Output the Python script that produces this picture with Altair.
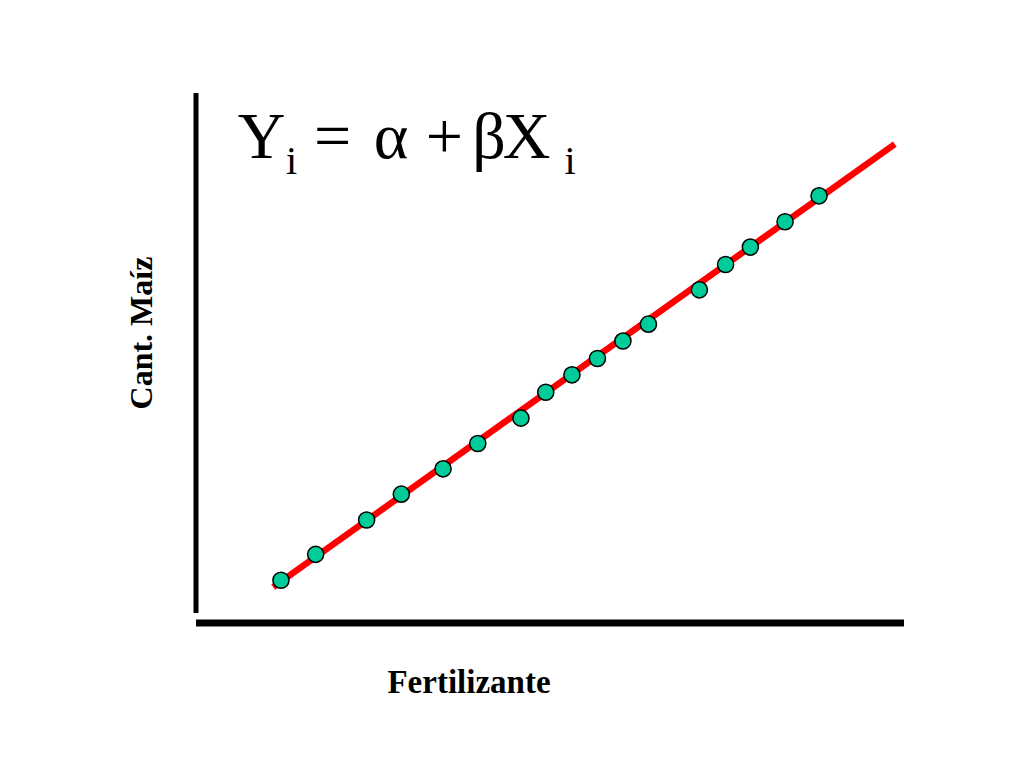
import altair as alt
import pandas as pd

# ---- data (in chart units: axis corner = 0,0) ----
fertilizante = [12.0, 16.9, 24.1, 29.0, 34.9, 39.8, 45.9, 49.4, 53.1, 56.7,
                60.3, 63.9, 71.1, 74.8, 78.3, 83.2, 88.0]
maiz = [8.1, 13.0, 19.5, 24.4, 29.2, 34.0, 38.8, 43.7, 47.0, 50.1,
        53.4, 56.6, 63.1, 67.9, 71.2, 76.0, 80.9]
line_x = [10.9, 98.7]
line_y = [6.8, 90.7]

# axis lines (chart units)
vaxis_x, vaxis_y = [0.0, 0.0], [1.9, 100.4]
haxis_x, haxis_y = [0.0, 100.0], [0.0, 0.0]

# formula tokens
big_tokens = ["Y", "=", "α", "+", "β", "X"]
big_tok_x = [9.25, 19.28, 27.54, 35.09, 41.38, 46.68]
sub_tokens = ["i", "i"]
sub_tok_x = [13.49, 52.82]

# ---- layout ----
W, H = 1000, 744
x0px, x100px = 188, 896
y0px, y100px = 615, 87
xs = (x100px - x0px) / 100.0
ys = (y0px - y100px) / 100.0
x_dom = [-x0px / xs, (W - x0px) / xs]
y_dom = [-(H - y0px) / ys, y0px / ys]

X = lambda f="x": alt.X(f"{f}:Q", scale=alt.Scale(domain=x_dom, nice=False, zero=False), axis=None)
Y = lambda f="y": alt.Y(f"{f}:Q", scale=alt.Scale(domain=y_dom, nice=False, zero=False), axis=None)

pts = pd.DataFrame({"x": fertilizante, "y": maiz})
ln = pd.DataFrame({"x": line_x, "y": line_y})
vax = pd.DataFrame({"x": [vaxis_x[0]], "x2": [vaxis_x[1]], "y": [vaxis_y[0]], "y2": [vaxis_y[1]]})
hax = pd.DataFrame({"x": [haxis_x[0]], "x2": [haxis_x[1]], "y": [haxis_y[0]], "y2": [haxis_y[1]]})

big_df = pd.DataFrame({"t": big_tokens, "x": big_tok_x, "y": [88.1] * len(big_tokens)})
sub_df = pd.DataFrame({"t": sub_tokens, "x": sub_tok_x, "y": [85.0] * len(sub_tokens)})
xlab = pd.DataFrame({"t": ["Fertilizante"], "x": [38.56], "y": [-13.26]})
ylab = pd.DataFrame({"t": ["Cant. Maíz"], "x": [-6.21], "y": [54.92]})

vrule = alt.Chart(vax).mark_rule(color="black", strokeWidth=5, strokeCap="butt").encode(
    x=X(), x2="x2:Q", y=Y(), y2="y2:Q")
hrule = alt.Chart(hax).mark_rule(color="black", strokeWidth=7, strokeCap="butt").encode(
    x=X(), x2="x2:Q", y=Y(), y2="y2:Q")

line = alt.Chart(ln).mark_line(color="#FF0000", strokeWidth=6.5, strokeCap="butt").encode(
    x=X(), y=Y())

points = alt.Chart(pts).mark_circle(size=260, color="#00CC99", opacity=1,
                                    stroke="black", strokeWidth=1.5).encode(x=X(), y=Y())

big = alt.Chart(big_df).mark_text(font="Liberation Serif", fontSize=66, align="center",
                                  baseline="alphabetic", color="black").encode(
    x=X(), y=Y(), text="t:N")
sub = alt.Chart(sub_df).mark_text(font="Liberation Serif", fontSize=40, align="center",
                                  baseline="alphabetic", color="black").encode(
    x=X(), y=Y(), text="t:N")
xt = alt.Chart(xlab).mark_text(font="Liberation Serif", fontSize=33, fontWeight="bold",
                               align="center", baseline="alphabetic", color="black").encode(
    x=X(), y=Y(), text="t:N")
yt = alt.Chart(ylab).mark_text(font="Liberation Serif", fontSize=32, fontWeight="bold",
                               align="center", baseline="alphabetic", angle=270,
                               color="black").encode(x=X(), y=Y(), text="t:N")

chart = alt.layer(vrule, hrule, line, points, big, sub, xt, yt).properties(
    width=W, height=H, padding=0, background="white"
).configure_view(stroke=None)

chart.save("out.html", embed_options={"renderer": "svg", "actions": False})
